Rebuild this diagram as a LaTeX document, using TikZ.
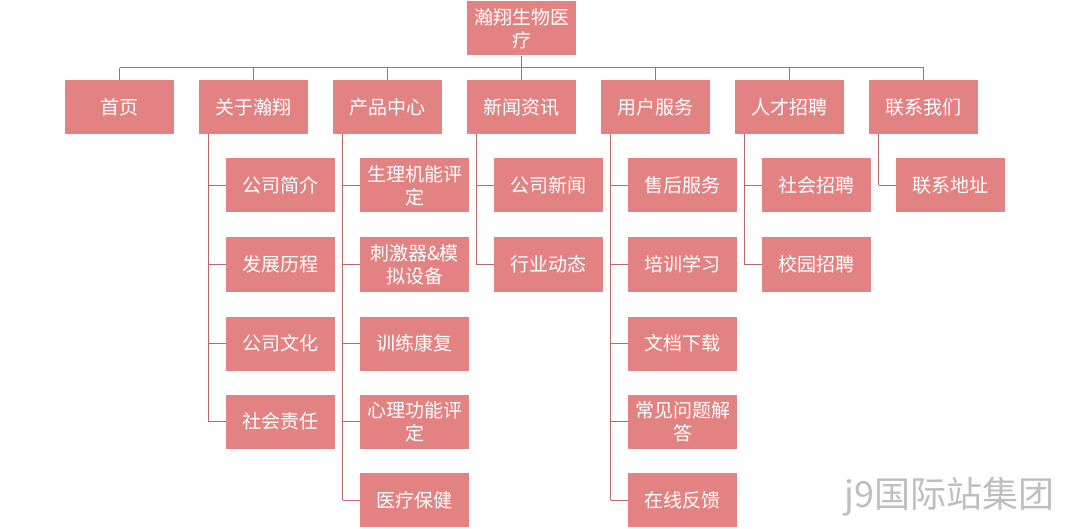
\documentclass[tikz,border=0pt]{standalone}
\usepackage{fontspec}
\setmainfont{Noto Sans CJK SC}
\begin{document}
\begin{tikzpicture}[x=1pt,y=-1pt,
 box/.style={draw=none,fill=boxc,minimum width=109pt,minimum height=54pt,text width=106pt,align=center,inner sep=0pt,font=\fontsize{19}{23}\selectfont,text=white},
 ln/.style={draw=linec,line width=1pt}]
\definecolor{boxc}{HTML}{E38282}
\definecolor{linec}{HTML}{C0666A}
\useasboundingbox[fill=white] (0,0) rectangle (1070,529);
\node[box] (r) at (521.5,28.5) {瀚翔生物医\\疗};
\foreach \n/\t [count=\i from 0] in {a/首页,b/关于瀚翔,c/产品中心,d/新闻资讯,e/用户服务,f/人才招聘,g/联系我们}{
 \node[box] (\n) at (119.5+134*\i,107) {\t};
}
\coordinate (bl) at (119.5,68);
\coordinate (br) at (923.5,68);
\draw[ln] (bl) -- (br);
\foreach \n in {a,b,c,d,e,f,g}{\draw[ln] (\n.north) -- (\n.north |- bl);}
\draw[ln] (r.south) -- (r.south |- bl);
\def\ys{{0,185.5,264.5,343.5,421.5,500}}
\foreach \p/\lst in {b/{公司简介,发展历程,公司文化,社会责任},c/{{生理机能评\\定},{刺激器\&模\\拟设备},训练康复,{心理功能评\\定},医疗保健},d/{公司新闻,行业动态},e/{售后服务,培训学习,文档下载,{常见问题解\\答},在线反馈},f/{社会招聘,校园招聘},g/{联系地址}}{
 \foreach \t [count=\j] in \lst {
  \path (\p.west) ++(10,0) coordinate (\p t);
  \pgfmathsetmacro\yy{\ys[\j]}
  \node[box] (\p k\j) at ([xshift=27pt]\p.center |- 0,\yy) {\t};
  \draw[ln] (\p k\j.west) -- (\p t |- \p k\j.west);
  \coordinate (\p e) at (\p t |- \p k\j.west);
 }
 \draw[ln] (\p t |- \p.south) -- (\p e);
}
\node[text=gray!50,font=\fontsize{36}{38}\selectfont,anchor=east] (w) at (1058,497) {j9国际站集团};
\end{tikzpicture}
\end{document}
